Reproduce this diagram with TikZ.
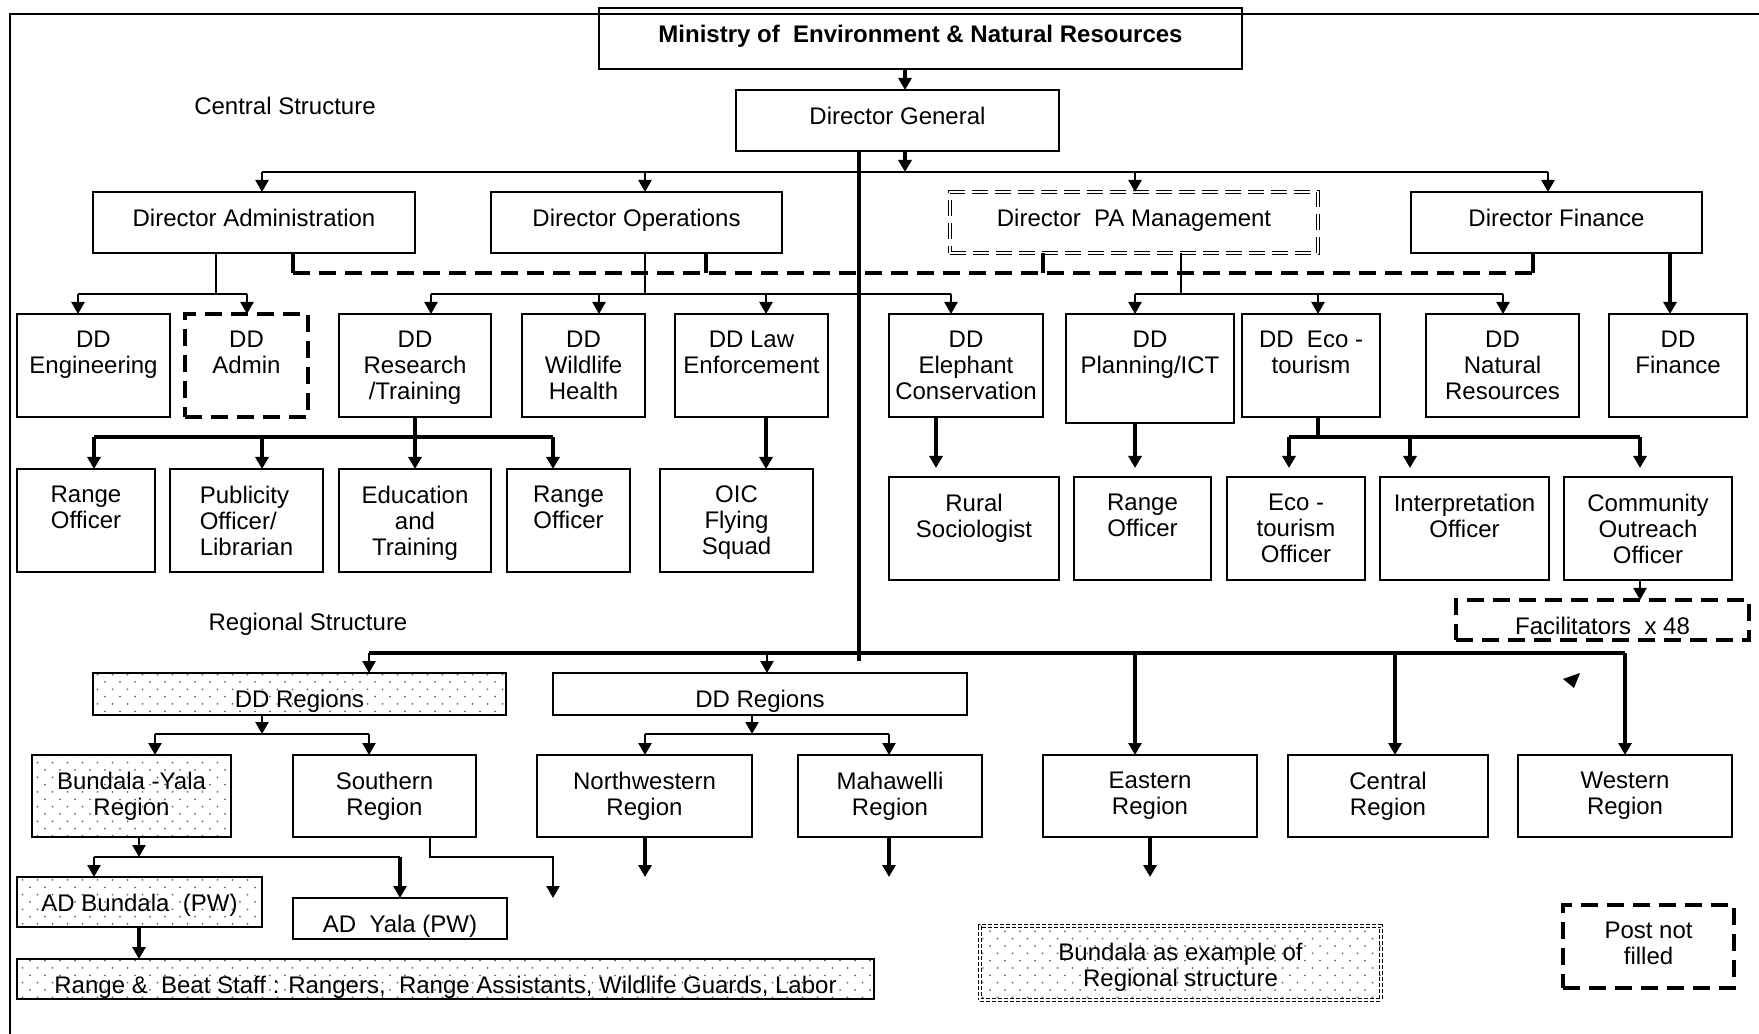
\documentclass[tikz,border=0pt]{standalone}
\usepackage{fontspec}
\setmainfont{Liberation Sans}
\usetikzlibrary{arrows.meta, patterns, calc}

\newcommand\chartfont{\fontsize{7.2pt}{7.8pt}\selectfont}

% sparse staggered dots for the Bundala boxes
\pgfdeclarepatternformonly{sparse dots}{\pgfqpoint{-0.5pt}{-0.5pt}}{\pgfqpoint{2.8pt}{2.7pt}}{\pgfqpoint{4.5pt}{4.4pt}}{%
  \pgfpathcircle{\pgfqpoint{0pt}{0pt}}{0.3pt}%
  \pgfpathcircle{\pgfqpoint{2.25pt}{2.2pt}}{0.3pt}%
  \pgfusepath{fill}}

\tikzset{
  box/.style args={#1/#2/#3/#4}{draw, line width=0.7pt, anchor=north west,
    inner sep=0pt, outer sep=0pt,
    minimum width={(#3-#1)*0.3pt}, minimum height={(#4-#2)*0.3pt}, at={(#1,#2)}},
  txt/.style={anchor=north, align=center, inner sep=0pt, yshift=-4.8pt, font=\chartfont},
  vacant/.style={line width=1.2pt, dash pattern=on 5.1pt off 2.7pt},
  hollowdash/.style={double, double distance=0.5pt, line width=0.3pt, dash pattern=on 4.8pt off 2.1pt},
  beadline/.style={double, double distance=0.6pt, line width=0.3pt, dash pattern=on 1.2pt off 0.6pt},
  stipple/.style={pattern=sparse dots, pattern color=black!60},
  hair/.style={line width=0.45pt},
  link/.style={line width=0.7pt},
  heavy/.style={line width=1.2pt},
  arr/.style={-{Triangle[length=3.6pt,width=3.9pt]}}
}

\begin{document}
\begin{tikzpicture}[x=0.3pt, y=-0.3pt]
  \useasboundingbox (0,0) rectangle (1759,1034);

  % outer frame (runs off the page at right and bottom)
  \draw[line width=0.6pt] (10,1040) -- (10,14) -- (1765,14);

  % Top level
  \node[box={599/8/1242/69}, label={[txt]north:{\textbf{Ministry of\ \ Environment \& Natural Resources}}}] (ministry) {};
  \node[box={736/90/1059/151}, label={[txt]north:{Director General}}] (dg) {};
  \node[font=\chartfont] (central) at (285,106) {Central Structure};

  % Directors
  \node[box={93/192/415/253}, label={[txt]north:{Director Administration}}] (diradmin) {};
  \node[box={491/192/782/253}, label={[txt]north:{Director Operations}}] (dirops) {};
  \node[box={950/192/1318/253}, hollowdash, label={[txt]north:{Director\ \ PA Management}}] (dirpa) {};
  \node[box={1411/192/1702/253}, label={[txt]north:{Director Finance}}] (dirfin) {};

  % Deputy directors
  \node[box={17/314/170/417}, label={[txt]north:{DD\\Engineering}}] (ddeng) {};
  \node[box={185/314/308/417}, vacant, label={[txt]north:{DD\\Admin}}] (ddadm) {};
  \node[box={339/314/491/417}, label={[txt]north:{DD\\Research\\/Training}}] (ddres) {};
  \node[box={522/314/645/417}, label={[txt]north:{DD\\Wildlife\\Health}}] (ddwild) {};
  \node[box={675/314/828/417}, label={[txt]north:{DD Law\\Enforcement}}] (ddlaw) {};
  \node[box={889/314/1043/417}, label={[txt]north:{DD\\Elephant\\Conservation}}] (ddele) {};
  \node[box={1066/314/1234/423}, label={[txt]north:{DD\\Planning/ICT}}] (ddplan) {};
  \node[box={1242/314/1380/417}, label={[txt]north:{DD\ \ Eco -\\tourism}}] (ddeco) {};
  \node[box={1426/314/1579/417}, label={[txt]north:{DD\\Natural\\Resources}}] (ddnat) {};
  \node[box={1609/314/1747/417}, label={[txt]north:{DD\\Finance}}] (ddfin) {};

  % Officers, left
  \node[box={17/469/155/572}, label={[txt]north:{Range\\Officer}}] (ro1) {};
  \node[box={170/469/323/572}, label={[txt,align=left]north:{Publicity\\Officer/\\Librarian}}] (pub) {};
  \node[box={339/469/491/572}, label={[txt]north:{Education\\and\\Training}}] (edu) {};
  \node[box={507/469/630/572}, label={[txt]north:{Range\\Officer}}] (ro2) {};
  \node[box={660/469/813/572}, label={[txt]north:{OIC\\Flying\\Squad}}] (oic) {};

  % Officers, right
  \node[box={889/477/1059/580}, label={[txt]north:{Rural\\Sociologist}}] (rural) {};
  \node[box={1074/477/1211/580}, label={[txt]north:{Range\\Officer}}] (ro3) {};
  \node[box={1227/477/1365/580}, label={[txt]north:{Eco -\\tourism\\Officer}}] (ecoof) {};
  \node[box={1380/477/1549/580}, label={[txt]north:{Interpretation\\Officer}}] (interp) {};
  \node[box={1564/477/1732/580}, label={[txt]north:{Community\\Outreach\\Officer}}] (outreach) {};
  \node[box={1456/600/1749/640}, vacant, label={[txt]north:{Facilitators\ \ x 48}}] (facil) {};

  % Regional structure
  \node[font=\chartfont] (regional) at (308,624) {Regional Structure};
  \node[box={93/673/506/715}, stipple, label={[txt]north:{DD Regions}}] (ddreg1) {};
  \node[box={553/673/967/715}, label={[txt]north:{DD Regions}}] (ddreg2) {};
  \node[box={32/755/231/837}, stipple, label={[txt]north:{Bundala -Yala\\Region}}] (bunyala) {};
  \node[box={293/755/476/837}, label={[txt]north:{Southern\\Region}}] (south) {};
  \node[box={537/755/752/837}, label={[txt]north:{Northwestern\\Region}}] (nwest) {};
  \node[box={798/755/982/837}, label={[txt]north:{Mahawelli\\Region}}] (mahaw) {};
  \node[box={1043/755/1257/837}, label={[txt]north:{Eastern\\Region}}] (east) {};
  \node[box={1288/755/1488/837}, label={[txt]north:{Central\\Region}}] (centr) {};
  \node[box={1518/755/1732/837}, label={[txt]north:{Western\\Region}}] (west) {};
  \node[box={17/877/262/927}, stipple, label={[txt]north:{AD Bundala\ \ (PW)}}] (adbun) {};
  \node[box={293/898/507/939}, label={[txt]north:{AD\ \ Yala (PW)}}] (adyala) {};
  \node[box={17/959/874/999}, stipple, label={[txt]north:{Range \&\ \ Beat Staff : Rangers,\ \ Range Assistants, Wildlife Guards, Labor}}] (staff) {};

  % Legend
  \node[box={980/926/1381/1000}, stipple, beadline, label={[txt]north:{Bundala as example of\\Regional structure}}] (legbun) {};
  \node[box={1563/905/1734/988}, vacant, label={[txt]north:{Post not\\filled}}] (legvac) {};

  % Ministry -> Director General -> central bus
  \coordinate (mainx) at (905,0);
  \coordinate (cbus-dg) at (905,172);
  \draw[heavy, arr] (ministry.south -| mainx) -- (dg.north -| mainx);
  \draw[heavy, arr] (dg.south -| mainx) -- (cbus-dg);

  % central bus to the directors
  \coordinate (cbus-l) at (262,172);
  \coordinate (cbus-ops) at (645,172);
  \coordinate (cbus-pa) at (1135,172);
  \coordinate (cbus-r) at (1548,172);
  \draw[link] (cbus-l) -- (cbus-r);
  \draw[link, arr] (cbus-l) -- (diradmin.north -| cbus-l);
  \draw[link, arr] (cbus-ops) -- (dirops.north -| cbus-ops);
  \draw[link, arr] (cbus-pa) -- (dirpa.north -| cbus-pa);
  \draw[link, arr] (cbus-r) -- (dirfin.north -| cbus-r);

  % trunk down to the regions
  \coordinate (trunk-end) at (859,661);
  \draw[line width=1.4pt] (dg.south -| trunk-end) -- (trunk-end);

  % dashed link between directors
  \coordinate (dl-adm) at (293,273);
  \coordinate (dl-ops) at (706,273);
  \coordinate (dl-pa) at (1043,273);
  \coordinate (dl-fin) at (1533,273);
  \draw[heavy, dash pattern=on 5.1pt off 2.7pt] (dl-adm) -- (dl-fin);
  \draw[heavy] (diradmin.south -| dl-adm) -- (dl-adm);
  \draw[heavy] (dirops.south -| dl-ops) -- (dl-ops);
  \draw[heavy] (dirpa.south -| dl-pa) -- (dl-pa);
  \draw[heavy] (dirfin.south -| dl-fin) -- (dl-fin);

  % Administration branch
  \coordinate (abus) at (216,294);
  \coordinate (abus-l) at (78,294);
  \coordinate (abus-r) at (247,294);
  \draw[hair] (diradmin.south -| abus) -- (abus);
  \draw[link] (abus-l) -- (abus-r);
  \draw[link, arr] (abus-l) -- (ddeng.north -| abus-l);
  \draw[link, arr] (abus-r) -- (ddadm.north -| abus-r);

  % Operations branch
  \coordinate (obus) at (645,294);
  \coordinate (obus-res) at (431,294);
  \coordinate (obus-wild) at (599,294);
  \coordinate (obus-law) at (766,294);
  \coordinate (obus-ele) at (951,294);
  \draw[hair] (dirops.south -| obus) -- (obus);
  \draw[link] (obus-res) -- (obus-ele);
  \draw[link, arr] (obus-res) -- (ddres.north -| obus-res);
  \draw[link, arr] (obus-wild) -- (ddwild.north -| obus-wild);
  \draw[link, arr] (obus-law) -- (ddlaw.north -| obus-law);
  \draw[link, arr] (obus-ele) -- (ddele.north -| obus-ele);

  % PA Management branch
  \coordinate (pbus) at (1181,294);
  \coordinate (pbus-plan) at (1135,294);
  \coordinate (pbus-eco) at (1318,294);
  \coordinate (pbus-nat) at (1503,294);
  \draw[link] (dirpa.south -| pbus) -- (pbus);
  \draw[link] (pbus-plan) -- (pbus-nat);
  \draw[link, arr] (pbus-plan) -- (ddplan.north -| pbus-plan);
  \draw[link, arr] (pbus-eco) -- (ddeco.north -| pbus-eco);
  \draw[link, arr] (pbus-nat) -- (ddnat.north -| pbus-nat);

  % Finance
  \coordinate (finx) at (1670,0);
  \draw[heavy, arr] (dirfin.south -| finx) -- (ddfin.north -| finx);

  % Research/Training branch
  \coordinate (rbus-1) at (94,437);
  \coordinate (rbus-2) at (262,437);
  \coordinate (rbus-4) at (553,437);
  \draw[heavy, arr] (ddres.south) -- (edu.north);
  \draw[heavy] (rbus-1) -- (rbus-4);
  \draw[heavy, arr] (rbus-1) -- (ro1.north -| rbus-1);
  \draw[heavy, arr] (rbus-2) -- (pub.north -| rbus-2);
  \draw[heavy, arr] (rbus-4) -- (ro2.north -| rbus-4);

  % Law Enforcement, Elephant, Planning
  \draw[heavy, arr] (ddlaw.south -| obus-law) -- (oic.north -| obus-law);
  \coordinate (elex) at (936,0);
  \draw[heavy, arr, shorten >=2.7pt] (ddele.south -| elex) -- (rural.north -| elex);
  \draw[heavy, arr, shorten >=2.7pt] (ddplan.south -| pbus-plan) -- (ro3.north -| pbus-plan);

  % Eco-tourism branch
  \coordinate (ebus) at (1318,437);
  \coordinate (ebus-1) at (1289,437);
  \coordinate (ebus-2) at (1410,437);
  \coordinate (ebus-3) at (1640,437);
  \draw[heavy] (ddeco.south -| ebus) -- (ebus);
  \draw[heavy] (ebus-1) -- (ebus-3);
  \draw[heavy, arr, shorten >=2.7pt] (ebus-1) -- (ecoof.north -| ebus-1);
  \draw[heavy, arr, shorten >=2.7pt] (ebus-2) -- (interp.north -| ebus-2);
  \draw[heavy, arr, shorten >=2.7pt] (ebus-3) -- (outreach.north -| ebus-3);
  \draw[link, arr] (outreach.south -| ebus-3) -- (facil.north -| ebus-3);

  % Regional bus
  \coordinate (rg-l) at (369,653);
  \coordinate (rg-2) at (767,653);
  \coordinate (rg-east) at (1135,653);
  \coordinate (rg-cen) at (1395,653);
  \coordinate (rg-r) at (1625,653);
  \draw[heavy] (rg-l) -- (rg-r);
  \draw[link, arr] (rg-l) -- (ddreg1.north -| rg-l);
  \draw[link, arr] (rg-2) -- (ddreg2.north -| rg-2);
  \draw[heavy, arr] (rg-east) -- (east.north -| rg-east);
  \draw[heavy, arr] (rg-cen) -- (centr.north -| rg-cen);
  \draw[heavy, arr] (rg-r) -- (west.north -| rg-r);
  \fill (1563,679) -- (1580,673) -- (1574,688) -- cycle;

  % DD Regions (Bundala example)
  \coordinate (s1) at (262,734);
  \coordinate (s1-l) at (155,734);
  \coordinate (s1-r) at (369,734);
  \draw[link, arr] (ddreg1.south -| s1) -- (s1);
  \draw[link] (s1-l) -- (s1-r);
  \draw[link, arr] (s1-l) -- (bunyala.north -| s1-l);
  \draw[link, arr] (s1-r) -- (south.north -| s1-r);

  % DD Regions
  \coordinate (s2) at (752,734);
  \coordinate (s2-l) at (645,734);
  \coordinate (s2-r) at (889,734);
  \draw[link, arr] (ddreg2.south -| s2) -- (s2);
  \draw[link] (s2-l) -- (s2-r);
  \draw[link, arr] (s2-l) -- (nwest.north -| s2-l);
  \draw[link, arr] (s2-r) -- (mahaw.north -| s2-r);

  % Bundala-Yala region
  \coordinate (s3) at (139,857);
  \coordinate (s3-l) at (94,857);
  \coordinate (s3-r) at (400,857);
  \draw[link, arr] (bunyala.south -| s3) -- (s3);
  \draw[link] (s3-l) -- (s3-r);
  \draw[link, arr] (s3-l) -- (adbun.north -| s3-l);
  \draw[heavy, arr] (s3-r) -- (adyala.north -| s3-r);
  \draw[heavy, arr] (adbun.south -| s3) -- (staff.north -| s3);

  % open outlets of the other regions
  \coordinate (sth-bend) at (430,857);
  \coordinate (sth-end) at (553,898);
  \coordinate (nw-end) at (645,877);
  \coordinate (mh-end) at (889,877);
  \coordinate (ea-end) at (1150,877);
  \draw[link, arr] (south.south -| sth-bend) -- (sth-bend) -| (sth-end);
  \draw[heavy, arr] (nwest.south -| nw-end) -- (nw-end);
  \draw[heavy, arr] (mahaw.south -| mh-end) -- (mh-end);
  \draw[heavy, arr] (east.south -| ea-end) -- (ea-end);
\end{tikzpicture}
\end{document}
